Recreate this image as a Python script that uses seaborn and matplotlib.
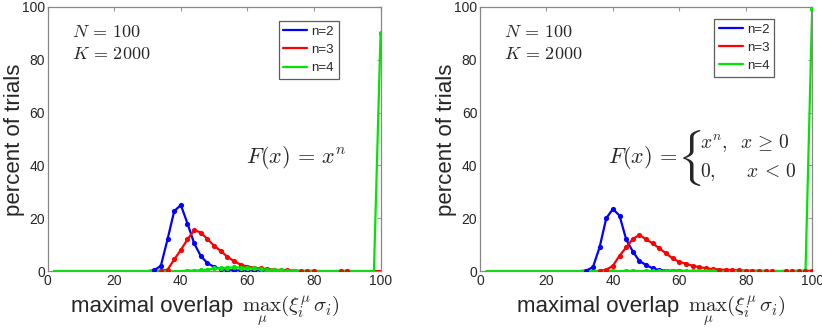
import numpy as np
import pandas as pd
import seaborn as sns
import matplotlib.pyplot as plt

# bin centres of the overlap histogram
overlap = list(range(2, 101, 2))

# nonzero percentages (overlap -> percent)
left_n2 = {32: 0.3, 34: 2.0, 36: 12.0, 38: 22.7, 40: 25.0, 42: 18.0, 44: 10.5,
           46: 5.7, 48: 3.0, 50: 1.6, 52: 0.8, 54: 0.4, 56: 0.3, 58: 0.2,
           60: 0.1, 62: 0.1, 64: 0.1}
left_n3 = {34: 0.2, 36: 0.5, 38: 4.4, 40: 8.0, 42: 12.0, 44: 15.5, 46: 14.6,
           48: 12.1, 50: 9.6, 52: 7.6, 54: 5.4, 56: 3.7, 58: 2.4, 60: 1.7,
           62: 1.3, 64: 1.0, 66: 0.8, 68: 0.5, 70: 0.4, 72: 0.3, 74: 0.2,
           76: 0.1, 78: 0.1, 80: 0.1, 88: 0.1, 90: 0.1}
left_n4 = {42: 0.2, 44: 0.2, 46: 0.3, 48: 0.5, 50: 1.0, 52: 1.1, 54: 1.3,
           56: 1.4, 58: 1.3, 60: 1.2, 62: 1.0, 64: 0.8, 66: 0.6, 68: 0.4,
           70: 0.3, 72: 0.2, 74: 0.1, 100: 90.3}

right_n2 = {32: 0.2, 34: 1.5, 36: 9.0, 38: 20.0, 40: 23.5, 42: 21.0, 44: 12.0,
            46: 7.4, 48: 3.8, 50: 2.3, 52: 1.0, 54: 0.4, 56: 0.2, 58: 0.1,
            60: 0.1}
right_n3 = {36: 0.1, 38: 0.5, 40: 2.0, 42: 5.8, 44: 9.0, 46: 12.2, 48: 13.7,
            50: 12.0, 52: 10.5, 54: 8.6, 56: 6.7, 58: 4.8, 60: 3.5, 62: 2.8,
            64: 2.0, 66: 1.5, 68: 1.1, 70: 0.8, 72: 0.6, 74: 0.5, 76: 0.4,
            78: 0.3, 80: 0.2, 82: 0.2, 84: 0.1, 86: 0.1, 88: 0.1, 92: 0.1,
            94: 0.1, 96: 0.1, 98: 0.1, 100: 0.1}
right_n4 = {40: 0.1, 44: 0.1, 46: 0.1, 50: 0.1, 52: 0.1, 54: 0.1, 56: 0.1,
            58: 0.1, 60: 0.1, 62: 0.1, 64: 0.1, 66: 0.1, 68: 0.1, 70: 0.1,
            100: 99.2}

labels = ['n=2', 'n=3', 'n=4']
colors = ['#0000ff', '#ff0000', '#00e600']

sns.set_style('white')
plt.rcParams['font.family'] = ['Liberation Sans', 'DejaVu Sans']
plt.rcParams['mathtext.fontset'] = 'cm'

fig = plt.figure(figsize=(8.22, 3.31), dpi=100)
ax1 = fig.add_axes([0.058, 0.181, 0.405, 0.798])
ax2 = fig.add_axes([0.584, 0.181, 0.404, 0.798])


def draw(ax, series, legend_anchor, xlab_pos, math_pos):
    for lab, col, s in zip(labels, colors, series):
        df = pd.DataFrame({'x': overlap, 'y': [s.get(v, 0.0) for v in overlap]})
        sns.lineplot(data=df, x='x', y='y', color=col, lw=1.6, ax=ax, label=lab)
        nz = df[df['y'] > 0]
        sns.scatterplot(data=nz, x='x', y='y', color=col, s=14, linewidth=0,
                        ax=ax, zorder=3)
    ax.set_xlim(0, 100)
    ax.set_ylim(0, 100)
    ax.set_xticks([0, 20, 40, 60, 80, 100])
    ax.set_yticks([0, 20, 40, 60, 80, 100])
    ax.tick_params(direction='in', length=3, labelsize=10, pad=2,
                   top=True, right=True, color='#999999')
    for sp in ax.spines.values():
        sp.set_color('#888888')
        sp.set_linewidth(0.9)
    ax.set_xlabel('')
    ax.set_ylabel('')
    ax.text(xlab_pos, -0.155, 'maximal overlap', fontsize=16, ha='left',
            va='baseline', transform=ax.transAxes, clip_on=False)
    ax.text(math_pos, -0.155, r'$\max_{\mu}(\xi_i^{\mu}\sigma_i)$', fontsize=15,
            ha='left', va='baseline', transform=ax.transAxes, clip_on=False)
    ax.text(-0.1, 0.496, 'percent of trials', fontsize=16, rotation=90,
            ha='center', va='center', transform=ax.transAxes, clip_on=False)
    leg = ax.legend(loc='upper right', bbox_to_anchor=legend_anchor,
                    fontsize=9.5, frameon=True, fancybox=False,
                    handlelength=1.8, borderpad=0.35, labelspacing=0.45,
                    handletextpad=0.35, borderaxespad=0)
    leg.get_frame().set_edgecolor('#333333')
    leg.get_frame().set_linewidth(0.9)
    ax.text(7.2, 90.5, r'$N\,=\,100$', fontsize=13, va='center')
    ax.text(7.2, 82, r'$K\,=\,2000$', fontsize=13, va='center')


draw(ax1, [left_n2, left_n3, left_n4], (0.874, 0.947), 0.069, 0.583)
draw(ax2, [right_n2, right_n3, right_n4], (0.886, 0.955), 0.111, 0.627)

ax1.text(59.5, 43, r'$F(x)\,=\,x^n$', fontsize=16, va='center')

ax2.text(38.5, 43, r'$F(x)\,=$', fontsize=16, va='center')
ax2.text(59.3, 43, r'$\{$', fontsize=34, va='center', ha='left')
ax2.text(66.3, 48.5, r'$x^n,\;\;x\,\geq\,0$', fontsize=14, va='center')
ax2.text(66.3, 37.5, r'$0,\;\;\;\;\;\;x\,<\,0$', fontsize=14, va='center')

fig.savefig('out.png', dpi=100)
